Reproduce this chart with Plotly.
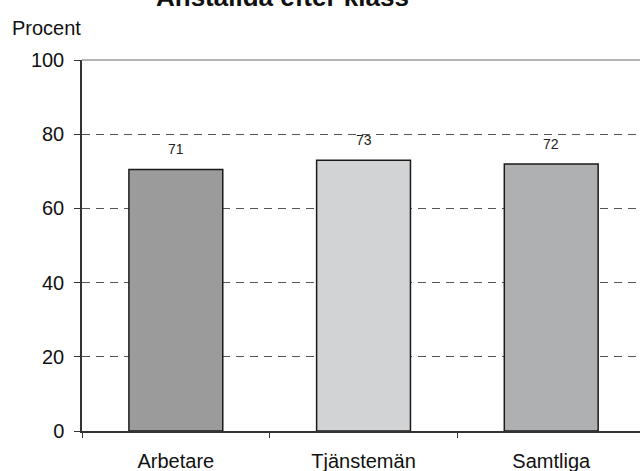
import plotly.graph_objects as go

categories = ["Arbetare", "Tjänstemän", "Samtliga"]
values = [70.5, 73.0, 72.0]
labels = ["71", "73", "72"]
colors = ["#9b9b9b", "#d2d3d5", "#afb0b2"]
y_ticks = [0, 20, 40, 60, 80, 100]

FONT = "Arial, Liberation Sans, sans-serif"

fig = go.Figure()
fig.add_trace(go.Bar(
    x=categories,
    y=values,
    width=0.5,
    marker=dict(color=colors, line=dict(color="#1a1a1a", width=1.5)),
    hoverinfo="x+y",
))

# value labels above the bars
for c, v, t in zip(categories, values, labels):
    fig.add_annotation(x=c, y=v, text=t, showarrow=False, yshift=20,
                       font=dict(family=FONT, size=14, color="#222"))

fig.add_annotation(xref="paper", yref="paper", x=-0.129, y=1.086,
                   xanchor="left", yanchor="middle", text="Procent",
                   showarrow=False, font=dict(family=FONT, size=20, color="#111"))

# chart title, partly cut by the top edge as in the original
fig.add_annotation(xref="paper", yref="paper", x=(282 - 82) / 558, y=1.17,
                   xanchor="center", yanchor="middle", text="<b>Anställda efter klass</b>",
                   showarrow=False, font=dict(family=FONT, size=26, color="#111"))

# solid frame line at the top of the plot area
fig.add_shape(type="line", xref="paper", yref="paper", x0=0, x1=1, y0=1, y1=1,
              line=dict(color="#9a9a9a", width=1.5))

fig.update_layout(
    width=640, height=471,
    margin=dict(l=82, r=0, t=60, b=40),
    paper_bgcolor="white", plot_bgcolor="white",
    showlegend=False,
    font=dict(family=FONT, color="#111"),
    xaxis=dict(
        range=[-0.5, 2.473], showline=True, linecolor="#333", linewidth=1.5,
        ticks="outside", tickson="boundaries", ticklen=5, tickcolor="#333",
        tickfont=dict(size=20, color="#111"), ticklabelstandoff=11,
        showgrid=False, fixedrange=True, automargin=False,
    ),
    yaxis=dict(
        range=[0, 100], tickvals=y_ticks, showline=True, linecolor="#333", linewidth=1.5,
        ticks="outside", ticklen=6, tickcolor="#333",
        tickfont=dict(size=20, color="#111"), ticklabelstandoff=6,
        showgrid=True, gridcolor="#555", gridwidth=1, griddash="8px,6px",
        zeroline=False, fixedrange=True, automargin=False,
    ),
)

# drop the browser's default page margin so the figure sits at the window corner
fig.write_html("out.html", config={"displayModeBar": False},
               post_script="document.body.style.margin='0px';")
